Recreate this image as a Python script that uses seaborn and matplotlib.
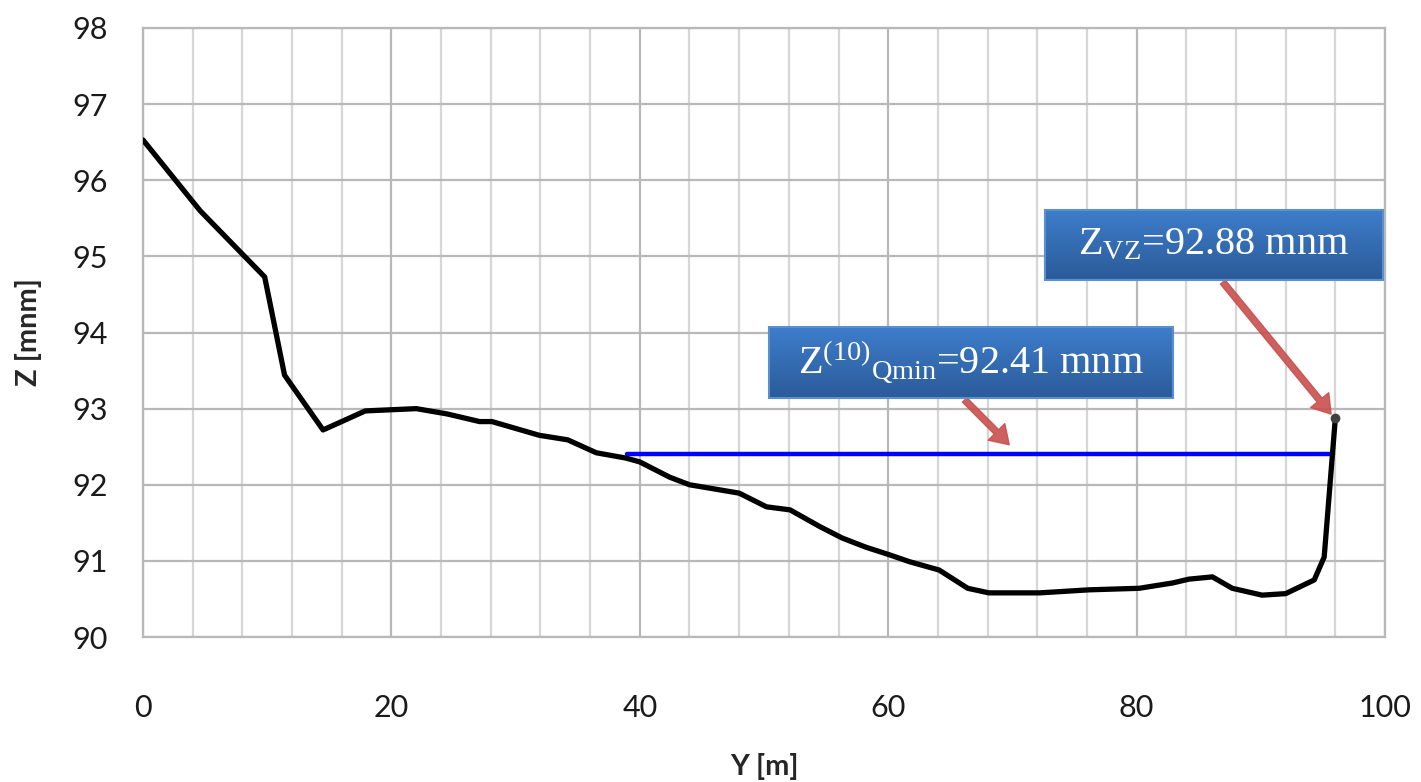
import matplotlib
matplotlib.use("Agg")
import matplotlib.pyplot as plt
import seaborn as sns
import numpy as np
from matplotlib.ticker import MultipleLocator

# cross-section profile (Y [m], Z [mnm])
y_pos = [0, 4.6, 9.8, 11.4, 14.5, 17.9, 22.0, 24.5, 27.1, 28.1, 31.9, 34.2,
         36.5, 38.9, 40.0, 42.4, 44.0, 48.0, 50.2, 52.1, 54.5, 56.3, 58.2,
         60.1, 61.7, 64.1, 66.4, 68.1, 72.2, 76.2, 80.2, 82.9, 84.2, 86.1,
         87.7, 90.1, 92.0, 94.3, 95.1, 96.0]
z_bed = [96.53, 95.6, 94.73, 93.44, 92.72, 92.97, 93.0, 92.93, 92.83, 92.83,
         92.65, 92.59, 92.42, 92.35, 92.30, 92.10, 92.0, 91.89, 91.71, 91.67,
         91.45, 91.30, 91.18, 91.08, 90.99, 90.88, 90.64, 90.58, 90.58, 90.62,
         90.64, 90.71, 90.76, 90.79, 90.64, 90.55, 90.57, 90.75, 91.05, 92.88]

# water level Z(10)Qmin
wl_y = [39.0, 95.8]
wl_z = [92.41, 92.41]

sns.set_style("whitegrid")
plt.rcParams['font.family'] = ['Lato', 'DejaVu Sans']
plt.rcParams['mathtext.fontset'] = 'custom'
plt.rcParams['mathtext.rm'] = 'Liberation Serif'
plt.rcParams['mathtext.it'] = 'Liberation Serif:italic'

fig = plt.figure(figsize=(14.21, 7.82), dpi=100)
ax = fig.add_axes([0.1006, 0.1854, 0.8741, 0.7788])

sns.lineplot(x=wl_y, y=wl_z, ax=ax, color='#0000ff', lw=3.2, sort=False,
             estimator=None, zorder=3)
sns.lineplot(x=y_pos, y=z_bed, ax=ax, color='black', lw=3.8, sort=False,
             estimator=None, zorder=4)
ax.plot(y_pos[-1], z_bed[-1], 'o', color='#404040', ms=6, zorder=5)

ax.set_xlim(0, 100)
ax.set_ylim(90, 98)
ax.xaxis.set_major_locator(MultipleLocator(20))
ax.xaxis.set_minor_locator(MultipleLocator(4))
ax.yaxis.set_major_locator(MultipleLocator(1))

ax.grid(which='major', color='#b8b8b8', lw=1.6)
ax.grid(which='minor', axis='x', color='#d6d6d6', lw=1.6)
ax.tick_params(axis='x', which='major', length=11, width=1.6, color='#b8b8b8',
               pad=30, labelsize=22, labelcolor='#1a1a1a')
ax.tick_params(axis='x', which='minor', length=0)
ax.tick_params(axis='y', length=11, width=1.6, color='#b8b8b8',
               pad=14, labelsize=22, labelcolor='#1a1a1a')
for sp in ax.spines.values():
    sp.set_color('#b8b8b8')
    sp.set_linewidth(1.6)

ax.set_xlabel('Y [m]', fontsize=21, fontweight='bold', labelpad=22)
ax.set_ylabel('Z [mnm]', fontsize=21, fontweight='bold', labelpad=22)

# annotation boxes with gradient fill
grad = np.linspace(0, 1, 64).reshape(-1, 1)
cmap = matplotlib.colors.LinearSegmentedColormap.from_list(
    'bx', ['#2b5b99', '#3e7dcb'])

def label_box(x0, x1, y0, y1, txt):
    ax.imshow(grad, cmap=cmap, aspect='auto', origin='lower',
              extent=(x0, x1, y0, y1), zorder=6)
    ax.add_patch(plt.Rectangle((x0, y0), x1 - x0, y1 - y0, fill=False,
                               ec='#5a8fd0', lw=1.5, zorder=7))
    ax.text((x0 + x1) / 2, (y0 + y1) / 2, txt, color='white', fontsize=29,
            family='Liberation Serif', ha='center', va='center', zorder=8)

label_box(50.4, 82.9, 93.14, 94.07,
          r'$\mathrm{Z}^{\mathrm{(10)}}{}_{\mathrm{Qmin}}$=92.41 mnm')
label_box(72.6, 99.8, 94.69, 95.61,
          r'$\mathrm{Z}_{\mathrm{VZ}}$=92.88 mnm')

arrow = dict(arrowstyle='simple,head_width=1.3,head_length=1.0,tail_width=0.35',
             mutation_scale=13, color='#c9504d', alpha=0.9)
ax.annotate('', xy=(69.9, 92.50), xytext=(66.0, 93.14),
            arrowprops=arrow, zorder=6)
ax.annotate('', xy=(95.8, 92.90), xytext=(86.8, 94.69),
            arrowprops=arrow, zorder=6)

fig.savefig('out.png', dpi=100)
